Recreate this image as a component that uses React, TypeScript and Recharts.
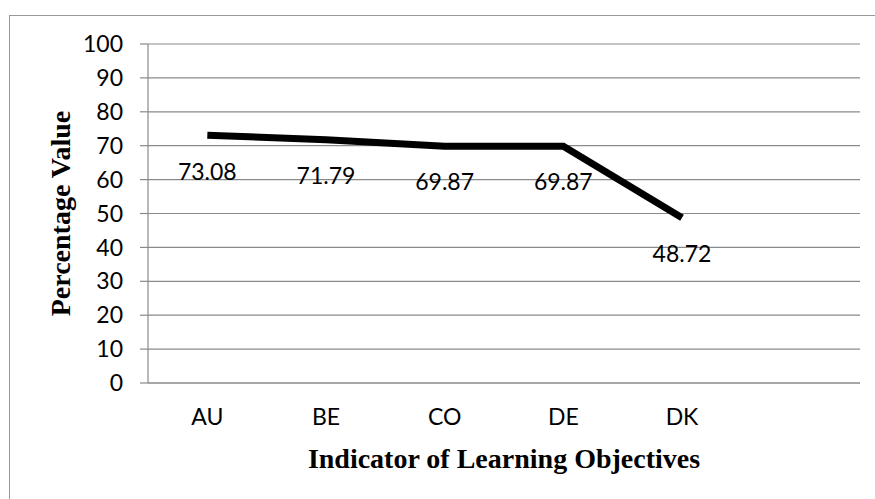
import { LineChart, Line, XAxis, YAxis, CartesianGrid, LabelList } from "recharts";

const categories = ["AU", "BE", "CO", "DE", "DK", ""];
const values = [73.08, 71.79, 69.87, 69.87, 48.72, null];
const yTicks = [0, 10, 20, 30, 40, 50, 60, 70, 80, 90, 100];
const slotEdges = [0, 1, 2, 3, 4, 5, 6];

const data = categories.map((name, i) => ({ name, value: values[i], slot: i + 0.5 }));

const GRID = "#8a8a8a";
const FONT = "Lato, 'Open Sans', sans-serif";
const TITLE_FONT = "'Liberation Serif', 'Times New Roman', serif";

export default function App() {
  return (
    <div style={{ position: "absolute", left: 0, top: 0, width: 875, height: 499, background: "#fff", overflow: "hidden" }}>
      {/* chart frame, only top and left edges fall inside the picture */}
      <div
        style={{
          position: "absolute",
          left: 9,
          top: 15,
          width: 900,
          height: 520,
          borderTop: "1.5px solid #999",
          borderLeft: "1.5px solid #999",
        }}
      />
      <LineChart
        width={875}
        height={499}
        data={data}
        margin={{ top: 44, right: 15, bottom: 16, left: 60 }}
        style={{ position: "absolute", left: 0, top: 0 }}
      >
        <CartesianGrid vertical={false} stroke={GRID} strokeWidth={1.2} />
        <XAxis
          xAxisId="cat"
          dataKey="name"
          height={100}
          padding={{ left: 59.33, right: 59.33 }}
          axisLine={{ stroke: GRID, strokeWidth: 1.2 }}
          tickLine={false}
          tickSize={0}
          tickMargin={26}
          tick={{ fontSize: 23, fill: "#000", fontFamily: FONT }}
          interval={0}
          label={{
            value: "Indicator of Learning Objectives",
            position: "insideBottom",
            offset: 15,
            style: { fontSize: 28, fontWeight: "bold", fontFamily: TITLE_FONT, fill: "#000" },
          }}
        />
        <XAxis
          xAxisId="tick"
          type="number"
          dataKey="slot"
          domain={[0, 6]}
          allowDataOverflow
          ticks={slotEdges}
          height={0}
          axisLine={false}
          tick={false}
          tickSize={8}
          tickLine={{ stroke: GRID, strokeWidth: 1.2 }}
        />
        <YAxis
          width={88}
          domain={[0, 100]}
          ticks={yTicks}
          interval={0}
          axisLine={{ stroke: GRID, strokeWidth: 1.2 }}
          tickLine={{ stroke: GRID, strokeWidth: 1.2 }}
          tickSize={8}
          tickMargin={17}
          tick={{ fontSize: 23, fill: "#000", fontFamily: FONT }}
          label={{
            value: "Percentage Value",
            angle: -90,
            position: "insideLeft",
            offset: 0,
            style: { textAnchor: "middle", fontSize: 28, fontWeight: "bold", fontFamily: TITLE_FONT, fill: "#000" },
          }}
        />
        <Line
          xAxisId="cat"
          dataKey="value"
          stroke="#000"
          strokeWidth={7}
          dot={false}
          activeDot={false}
          isAnimationActive={false}
        >
          <LabelList
            dataKey="value"
            position="bottom"
            offset={28}
            formatter={(v: number) => (v == null ? "" : v.toFixed(2))}
            style={{ fontSize: 23, fill: "#000", fontFamily: FONT }}
          />
        </Line>
      </LineChart>
    </div>
  );
}
